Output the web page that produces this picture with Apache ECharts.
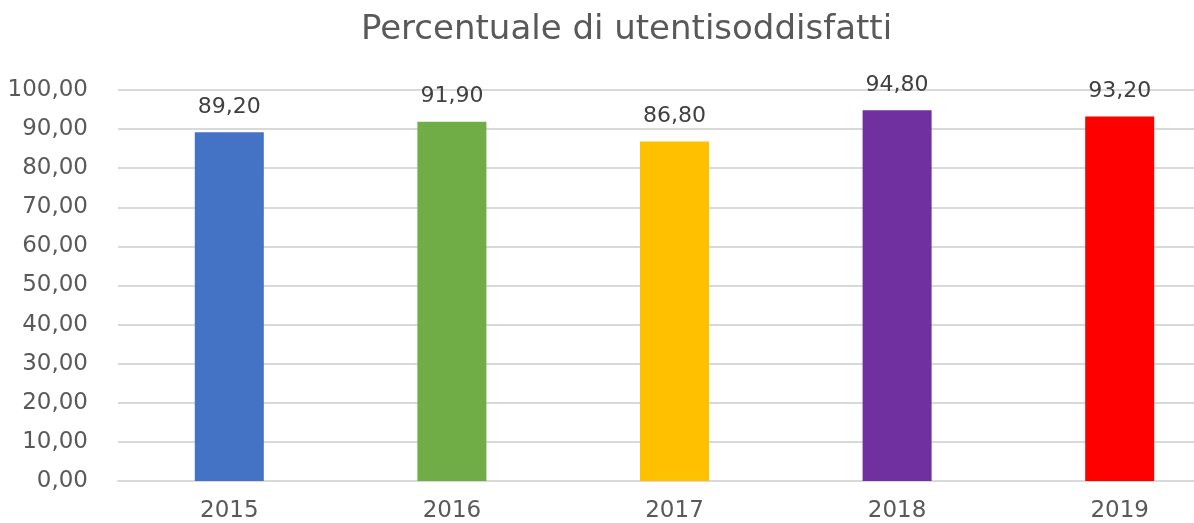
<!DOCTYPE html>
<html><head><meta charset="utf-8">
<script src="https://cdn.jsdelivr.net/npm/echarts@6/dist/echarts.min.js"></script>
<style>html,body{margin:0;padding:0;background:#fff;overflow:hidden;width:1194px;height:523px}#c{width:1253px;height:523px}</style>
</head><body><div id="c"></div>
<script>
const titleText = 'Percentuale di utentisoddisfatti';
const categories = ['2015','2016','2017','2018','2019'];
const values = [89.2, 91.9, 86.8, 94.8, 93.2];
const colors = ['#4472C4','#70AD47','#FFC000','#7030A0','#FF0000'];
const fmt = v => Number(v).toFixed(2).replace('.', ',');
const chart = echarts.init(document.getElementById('c'));
chart.setOption({
  animation: false,
  title: { text: titleText, left: 'center', top: 8,
    textStyle: { fontFamily: 'DejaVu Sans', fontSize: 34, fontWeight: 'normal', color: '#595959' } },
  grid: { left: 118, right: 22, top: 90, bottom: 41, containLabel: false },
  xAxis: { type: 'category', data: categories,
    axisLine: { show: true, lineStyle: { color: '#d9d9d9', width: 2 } },
    axisTick: { show: false },
    axisLabel: { margin: 19, fontFamily: 'DejaVu Sans', fontSize: 23, color: '#595959' } },
  yAxis: { type: 'value', min: 0, max: 100, interval: 10,
    axisLine: { show: false }, axisTick: { show: false },
    splitLine: { lineStyle: { color: '#d9d9d9', width: 2 } },
    axisLabel: { margin: 30, fontFamily: 'DejaVu Sans', fontSize: 23, color: '#595959', formatter: v => fmt(v) } },
  series: [{ type: 'bar', barWidth: '31%',
    data: values.map((v, i) => ({ value: v, itemStyle: { color: colors[i] } })),
    label: { show: true, position: 'top', distance: 14, fontFamily: 'DejaVu Sans', fontSize: 22, color: '#404040',
      formatter: p => fmt(p.value) } }]
});
</script></body></html>
